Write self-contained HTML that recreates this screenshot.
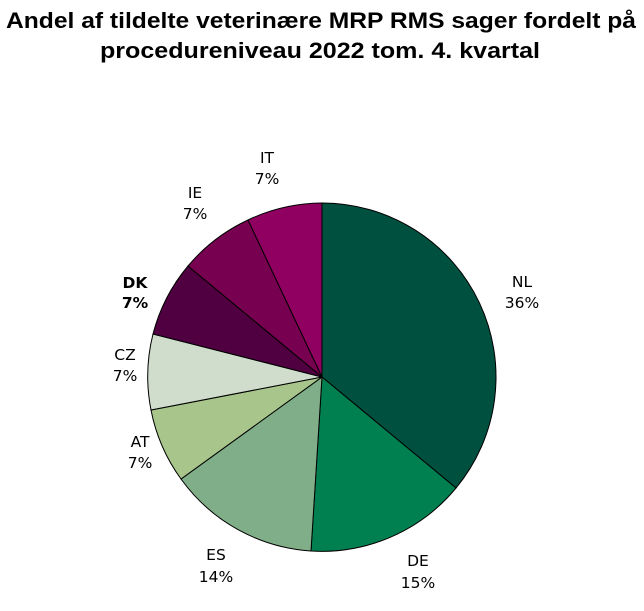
<!DOCTYPE html>
<html><head><meta charset="utf-8"><style>body{margin:0;background:#fff}svg{display:block}</style></head>
<body>
<svg width="644" height="611" viewBox="0 0 644 611" xmlns="http://www.w3.org/2000/svg">
<g font-family="Liberation Sans, Arial, sans-serif" font-weight="bold" font-size="22" fill="#000">
<text x="6" y="28" textLength="630" lengthAdjust="spacingAndGlyphs">Andel af tildelte veterinære MRP RMS sager fordelt på</text>
<text x="100" y="58" textLength="440" lengthAdjust="spacingAndGlyphs">procedureniveau 2022 tom. 4. kvartal</text>
</g>
<g stroke="#000" stroke-width="1">
<path d="M322,377 L322,203 A174,174 0 0 1 456,488 Z" fill="#005040"/>
<path d="M322,377 L456,488 A174,174 0 0 1 311,551 Z" fill="#008050"/>
<path d="M322,377 L311,551 A174,174 0 0 1 181,479 Z" fill="#80ae88"/>
<path d="M322,377 L181,479 A174,174 0 0 1 151,410 Z" fill="#a8c68c"/>
<path d="M322,377 L151,410 A174,174 0 0 1 153,334 Z" fill="#d0dccc"/>
<path d="M322,377 L153,334 A174,174 0 0 1 188,266 Z" fill="#500040"/>
<path d="M322,377 L188,266 A174,174 0 0 1 248,220 Z" fill="#780050"/>
<path d="M322,377 L248,220 A174,174 0 0 1 322,203 Z" fill="#900060"/>
</g>
<g font-family="DejaVu Sans, Verdana, sans-serif" font-size="15.5" fill="#000" text-anchor="middle">
<text x="267" y="163">IT</text><text x="267" y="184">7%</text>
<text x="195" y="198">IE</text><text x="195" y="219">7%</text>
<text x="135" y="288" font-weight="bold">DK</text><text x="135" y="308" font-weight="bold">7%</text>
<text x="125" y="360">CZ</text><text x="125" y="381">7%</text>
<text x="140" y="447">AT</text><text x="140" y="468">7%</text>
<text x="216" y="560">ES</text><text x="216" y="582">14%</text>
<text x="418" y="566">DE</text><text x="418" y="588">15%</text>
<text x="522" y="287">NL</text><text x="522" y="308">36%</text>
</g>
</svg>
</body></html>
